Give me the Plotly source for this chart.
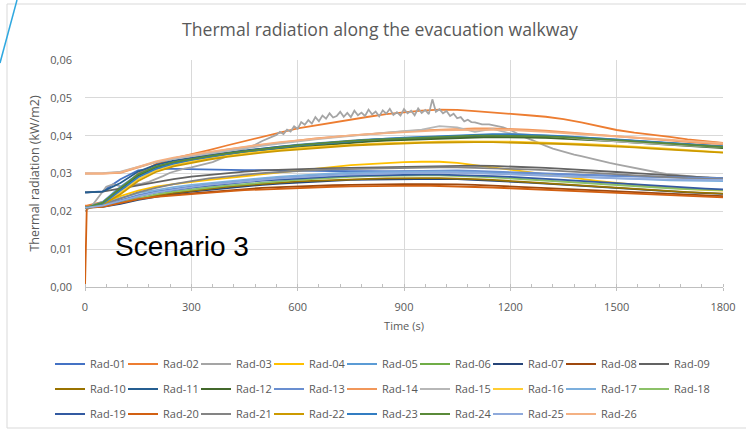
import plotly.graph_objects as go
import numpy as np

# ---------------- data (radiation in W/m2, converted to kW/m2 for plotting) -------------
time_s = [0, 5, 50, 100, 150, 200, 250, 300, 350, 400, 450, 500, 550, 600, 650, 700,
          750, 800, 850, 900, 950, 1000, 1050, 1100, 1150, 1200, 1250, 1300, 1350, 1400,
          1450, 1500, 1550, 1600, 1650, 1700, 1750, 1800]

time_rad03_s = list(range(0, 540, 20)) + list(range(540, 1100, 10)) + list(range(1100, 1801, 20))

rad_01 = [25.0, 25.0, 25.3, 28.5, 30.8, 31.2, 31.2, 31.1, 31.0, 31.0, 30.9, 30.9, 30.8, 30.8, 30.7, 30.7,
          30.6, 30.6, 30.6, 30.5, 30.5, 30.5, 30.4, 30.3, 30.2, 30.1, 30.0, 29.9, 29.8, 29.6,
          29.5, 29.4, 29.3, 29.2, 29.1, 29.0, 28.9, 28.8]
rad_02 = [21.5, 21.5, 22.5, 26.0, 30.0, 32.5, 34.0, 35.0, 36.2, 37.4, 38.6, 39.7, 40.8, 41.9, 42.7, 43.5,
          44.3, 45.0, 45.7, 46.2, 46.6, 46.9, 46.8, 46.5, 46.2, 45.8, 45.4, 45.0, 44.4, 43.5,
          42.5, 41.5, 40.8, 40.3, 39.7, 39.0, 38.5, 38.1]
rad_03 = [20.0, 21.5, 24.0, 26.5, 27.2, 26.6, 26.8, 27.0, 27.3, 27.8, 28.5, 29.3, 30.2, 30.8, 31.3, 31.6,
          32.0, 32.6, 33.0, 33.8, 34.5, 35.5, 36.2, 37.0, 37.6, 38.6, 39.5,
          40.2, 41.0, 40.4, 41.6, 41.1, 42.5, 41.8, 43.6, 42.9, 44.1,
          43.2, 44.9, 43.8, 45.3, 44.5, 45.9, 44.8, 45.2, 46.3, 45.0,
          46.0, 44.9, 46.6, 45.4, 46.1, 45.2, 46.9, 45.6, 46.4, 45.1,
          46.7, 45.8, 47.1, 45.5, 46.2, 45.3, 47.0, 45.9, 46.6, 45.4,
          47.2, 46.0, 46.8, 45.7, 49.6, 46.3, 47.0, 45.9, 46.5, 45.2,
          45.8, 44.6, 44.9, 43.8, 44.2, 43.6,
          43.5, 43.0, 43.0, 42.6, 42.2, 41.5, 40.5, 39.6, 38.9, 38.0, 37.3, 36.6, 36.0, 35.5,
          35.0, 34.6, 34.1, 33.6, 33.2, 32.8, 32.4, 32.0, 31.6, 31.2, 30.8, 30.5, 30.2, 29.9,
          29.7, 29.5, 29.3, 29.1, 29.0, 28.9, 28.8, 28.8]
rad_04 = [21.0, 21.0, 22.0, 24.0, 25.5, 26.5, 27.2, 27.8, 28.3, 28.8, 29.3, 29.8, 30.3, 30.8, 31.3, 31.8,
          32.2, 32.5, 32.8, 33.0, 33.1, 33.1, 32.8, 32.2, 31.5, 30.8, 30.2, 29.6, 29.0, 28.5,
          28.0, 27.5, 27.0, 26.6, 26.2, 25.9, 25.7, 25.5]
rad_05 = [21.0, 21.0, 22.5, 26.5, 29.8, 31.8, 33.0, 33.9, 34.7, 35.4, 36.0, 36.6, 37.1, 37.6, 38.0, 38.4,
          38.7, 39.0, 39.2, 39.4, 39.6, 39.8, 40.0, 40.1, 40.2, 40.2, 40.1, 40.0, 39.8, 39.6,
          39.3, 39.0, 38.7, 38.4, 38.1, 37.8, 37.5, 37.2]
rad_06 = [21.0, 21.0, 22.2, 26.0, 29.5, 31.5, 32.8, 33.7, 34.5, 35.2, 35.8, 36.3, 36.8, 37.3, 37.7, 38.1,
          38.4, 38.7, 38.9, 39.1, 39.3, 39.5, 39.6, 39.7, 39.8, 39.8, 39.7, 39.6, 39.4, 39.2,
          39.0, 38.7, 38.4, 38.1, 37.8, 37.5, 37.2, 36.9]
rad_07 = [21.0, 21.0, 21.2, 22.0, 23.0, 23.9, 24.6, 25.2, 25.7, 26.2, 26.6, 27.0, 27.3, 27.6, 27.9, 28.1,
          28.3, 28.4, 28.5, 28.6, 28.6, 28.6, 28.5, 28.3, 28.1, 27.9, 27.6, 27.3, 27.0, 26.7,
          26.4, 26.1, 25.8, 25.5, 25.2, 25.0, 24.8, 24.6]
rad_08 = [21.0, 21.0, 21.3, 22.4, 23.4, 24.0, 24.4, 24.8, 25.2, 25.6, 25.9, 26.2, 26.4, 26.6, 26.8, 26.9,
          27.0, 27.1, 27.2, 27.2, 27.2, 27.2, 27.1, 27.0, 26.8, 26.6, 26.4, 26.2, 26.0, 25.7,
          25.5, 25.2, 25.0, 24.8, 24.6, 24.4, 24.2, 24.0]
rad_09 = [25.0, 25.0, 25.2, 26.0, 27.0, 27.8, 28.5, 29.2, 29.7, 30.1, 30.5, 30.8, 31.0, 31.2, 31.3, 31.4,
          31.5, 31.6, 31.7, 31.8, 31.9, 32.0, 32.1, 32.1, 32.0, 31.9, 31.7, 31.5, 31.2, 31.0,
          30.7, 30.4, 30.1, 29.8, 29.5, 29.2, 29.0, 28.8]
rad_10 = [21.0, 21.0, 21.3, 22.3, 23.3, 24.2, 24.9, 25.5, 26.0, 26.5, 26.9, 27.3, 27.6, 27.9, 28.1, 28.3,
          28.5, 28.6, 28.7, 28.8, 28.8, 28.8, 28.7, 28.5, 28.3, 28.0, 27.7, 27.4, 27.1, 26.8,
          26.5, 26.2, 25.9, 25.6, 25.3, 25.1, 24.9, 24.7]
rad_11 = [25.0, 25.0, 25.2, 27.5, 30.5, 32.3, 33.4, 34.2, 34.9, 35.5, 36.1, 36.6, 37.1, 37.5, 37.9, 38.3,
          38.6, 38.9, 39.1, 39.3, 39.5, 39.7, 39.8, 39.9, 40.0, 40.0, 39.9, 39.8, 39.6, 39.4,
          39.2, 38.9, 38.6, 38.3, 38.0, 37.7, 37.4, 37.1]
rad_12 = [21.0, 21.0, 22.0, 25.8, 29.3, 31.4, 32.7, 33.6, 34.3, 35.0, 35.6, 36.1, 36.6, 37.0, 37.4, 37.8,
          38.1, 38.4, 38.7, 38.9, 39.1, 39.3, 39.4, 39.5, 39.6, 39.6, 39.5, 39.4, 39.2, 39.0,
          38.8, 38.5, 38.2, 37.9, 37.6, 37.3, 37.0, 36.7]
rad_13 = [21.0, 21.0, 21.6, 23.0, 24.3, 25.3, 26.0, 26.6, 27.2, 27.7, 28.2, 28.6, 29.0, 29.3, 29.6, 29.9,
          30.1, 30.3, 30.5, 30.6, 30.7, 30.8, 30.8, 30.7, 30.6, 30.4, 30.2, 30.0, 29.8, 29.6,
          29.4, 29.3, 29.2, 29.1, 29.0, 28.9, 28.8, 28.8]
rad_14 = [30.0, 30.0, 30.0, 30.2, 31.5, 33.0, 34.0, 34.8, 35.6, 36.3, 37.0, 37.6, 38.2, 38.8, 39.3, 39.7,
          40.1, 40.5, 40.8, 41.1, 41.4, 41.6, 41.8, 41.9, 41.9, 41.8, 41.6, 41.3, 41.0, 40.6,
          40.2, 39.8, 39.4, 39.0, 38.6, 38.3, 38.0, 37.8]
rad_15 = [30.0, 30.0, 30.1, 30.5, 31.8, 33.0, 33.9, 34.6, 35.3, 36.0, 36.7, 37.3, 37.9, 38.5, 39.0, 39.5,
          40.0, 40.4, 40.8, 41.2, 41.6, 42.5, 42.2, 41.0, 41.8, 40.6, 40.3, 40.0, 39.6, 39.2,
          38.8, 38.5, 38.2, 37.9, 37.6, 37.4, 37.2, 37.0]
rad_16 = [21.0, 21.0, 22.0, 25.0, 28.5, 30.8, 32.2, 33.2, 34.0, 34.7, 35.3, 35.8, 36.3, 36.7, 37.0, 37.3,
          37.6, 37.8, 38.0, 38.2, 38.3, 38.4, 38.5, 38.5, 38.5, 38.4, 38.3, 38.2, 38.0, 37.8,
          37.6, 37.4, 37.1, 36.8, 36.5, 36.2, 35.9, 35.6]
rad_17 = [21.0, 21.0, 21.8, 23.5, 24.8, 25.7, 26.4, 27.0, 27.5, 28.0, 28.4, 28.8, 29.2, 29.5, 29.8, 30.0,
          30.2, 30.3, 30.4, 30.5, 30.5, 30.5, 30.4, 30.3, 30.1, 29.9, 29.7, 29.5, 29.2, 29.0,
          28.8, 28.6, 28.4, 28.3, 28.2, 28.1, 28.0, 28.0]
rad_18 = [21.0, 21.0, 21.4, 22.5, 23.6, 24.5, 25.2, 25.8, 26.3, 26.8, 27.2, 27.6, 28.0, 28.3, 28.6, 28.9,
          29.1, 29.3, 29.4, 29.5, 29.5, 29.5, 29.4, 29.2, 29.0, 28.7, 28.4, 28.1, 27.8, 27.5,
          27.2, 26.9, 26.6, 26.3, 26.1, 25.9, 25.7, 25.6]
rad_19 = [21.0, 21.0, 21.5, 22.8, 24.0, 25.0, 25.7, 26.3, 26.8, 27.3, 27.7, 28.1, 28.4, 28.7, 29.0, 29.2,
          29.4, 29.5, 29.6, 29.7, 29.7, 29.7, 29.6, 29.5, 29.3, 29.1, 28.9, 28.6, 28.3, 28.0,
          27.7, 27.4, 27.1, 26.8, 26.5, 26.2, 26.0, 25.8]
rad_20 = [0.0, 21.0, 21.2, 22.2, 23.2, 23.8, 24.2, 24.5, 24.9, 25.3, 25.6, 25.8, 26.0, 26.2, 26.4, 26.5,
          26.6, 26.7, 26.7, 26.7, 26.8, 26.7, 26.6, 26.5, 26.3, 26.1, 25.9, 25.7, 25.4, 25.2,
          25.0, 24.8, 24.6, 24.4, 24.2, 24.0, 23.8, 23.7]
rad_21 = [21.0, 21.0, 21.8, 23.5, 25.0, 26.2, 27.2, 28.0, 28.7, 29.2, 29.7, 30.1, 30.4, 30.7, 30.9, 31.1,
          31.2, 31.3, 31.4, 31.5, 31.6, 31.6, 31.6, 31.5, 31.4, 31.3, 31.1, 30.9, 30.6, 30.3,
          30.0, 29.7, 29.4, 29.1, 28.9, 28.7, 28.6, 28.5]
rad_22 = [21.0, 21.0, 21.8, 24.5, 28.0, 30.4, 31.9, 32.9, 33.7, 34.4, 35.0, 35.5, 36.0, 36.4, 36.8, 37.1,
          37.4, 37.6, 37.8, 38.0, 38.1, 38.2, 38.3, 38.3, 38.3, 38.2, 38.1, 38.0, 37.8, 37.6,
          37.4, 37.2, 36.9, 36.6, 36.3, 36.0, 35.7, 35.5]
rad_23 = [21.0, 21.0, 22.0, 25.5, 29.0, 31.2, 32.6, 33.6, 34.4, 35.1, 35.8, 36.4, 36.9, 37.4, 37.8, 38.2,
          38.6, 38.9, 39.2, 39.5, 39.7, 39.9, 40.1, 40.3, 40.4, 40.4, 40.3, 40.1, 39.9, 39.6,
          39.3, 39.0, 38.7, 38.4, 38.0, 37.7, 37.4, 37.1]
rad_24 = [21.0, 21.0, 22.3, 26.2, 29.8, 31.8, 33.0, 33.9, 34.6, 35.3, 35.9, 36.5, 37.0, 37.5, 37.9, 38.3,
          38.6, 38.9, 39.1, 39.3, 39.5, 39.7, 39.9, 40.0, 40.0, 40.0, 39.9, 39.8, 39.6, 39.4,
          39.1, 38.8, 38.5, 38.2, 37.9, 37.6, 37.3, 37.0]
rad_25 = [21.0, 21.0, 21.5, 22.8, 24.0, 25.0, 25.8, 26.4, 27.0, 27.5, 27.9, 28.3, 28.7, 29.0, 29.3, 29.5,
          29.7, 29.9, 30.0, 30.1, 30.2, 30.2, 30.2, 30.1, 30.0, 29.8, 29.6, 29.4, 29.2, 29.0,
          28.8, 28.7, 28.6, 28.5, 28.4, 28.4, 28.3, 28.3]
rad_26 = [30.0, 30.0, 30.0, 30.3, 31.8, 33.2, 34.2, 35.0, 35.7, 36.4, 37.1, 37.7, 38.3, 38.8, 39.3, 39.7,
          40.1, 40.4, 40.7, 41.0, 41.2, 41.4, 41.5, 41.6, 41.6, 41.5, 41.3, 41.0, 40.7, 40.4,
          40.1, 39.8, 39.5, 39.2, 38.9, 38.6, 38.3, 38.0]

series_names = ["Rad-%02d" % i for i in range(1, 27)]
series_values = [rad_01, rad_02, rad_03, rad_04, rad_05, rad_06, rad_07, rad_08, rad_09, rad_10,
                 rad_11, rad_12, rad_13, rad_14, rad_15, rad_16, rad_17, rad_18, rad_19, rad_20,
                 rad_21, rad_22, rad_23, rad_24, rad_25, rad_26]
series_colors = ["#4472C4", "#ED7D31", "#A5A5A5", "#FFC000", "#5B9BD5", "#70AD47",
                 "#264478", "#9E480E", "#636363", "#997300", "#255E91", "#43682B",
                 "#698ED0", "#F1975A", "#B7B7B7", "#FFCD33", "#7CAFDD", "#8CC168",
                 "#335AA1", "#D26012", "#848484", "#CC9A00", "#327DC2", "#5A8A39",
                 "#8FAADC", "#F4B183"]

y_tick_vals = [0.0, 0.01, 0.02, 0.03, 0.04, 0.05, 0.06]
y_tick_text = ["0,00", "0,01", "0,02", "0,03", "0,04", "0,05", "0,06"]
x_tick_vals = [0, 300, 600, 900, 1200, 1500, 1800]

# ---------------- figure -------------
FONT = "Open Sans"
fig = go.Figure()
legends = ["legend", "legend2", "legend3"]
n = len(series_names)
for i, (name, vals, col) in enumerate(zip(series_names, series_values, series_colors)):
    xs = time_rad03_s if name == "Rad-03" else time_s
    last_in_row = (i % 9 == 8) or (i == n - 1)
    fig.add_trace(go.Scatter(
        x=xs, y=np.array(vals) / 1000.0, name=name, mode="lines",
        line=dict(color=col, width=1.8),
        legend=legends[i // 9],
        legendwidth=45 if last_in_row else None,
    ))

txt = "#595959"
W, H = 746, 430
L, R, T, B = 85, 23, 60, 143
pw, ph = W - L - R, H - T - B

def px_x(p):
    return (p - L) / pw

def px_y(p):
    return (H - B - p) / ph

leg_common = dict(orientation="h", xanchor="left", yanchor="middle",
                  font=dict(family=FONT, size=11, color=txt),
                  bgcolor="rgba(0,0,0,0)", borderwidth=0,
                  itemwidth=30, entrywidth=28, entrywidthmode="pixels",
                  tracegroupgap=0, itemclick=False)

fig.update_layout(
    width=W, height=H,
    margin=dict(l=L, r=R, t=T, b=B, autoexpand=False),
    paper_bgcolor="white", plot_bgcolor="white",
    font=dict(family=FONT, size=11, color=txt),
    title=dict(text="Thermal radiation along the evacuation walkway",
               x=px_x(380), xref="paper", xanchor="center",
               y=1 - 30 / H, yref="container", yanchor="middle",
               font=dict(family=FONT, size=17.6, color=txt)),
    showlegend=True,
    legend=dict(x=px_x(50), y=px_y(364), **leg_common),
    legend2=dict(x=px_x(50), y=px_y(389), **leg_common),
    legend3=dict(x=px_x(50), y=px_y(414), **leg_common),
    xaxis=dict(range=[0, 1800], tickvals=x_tick_vals, showgrid=True,
               gridcolor="#D9D9D9", gridwidth=1, zeroline=False,
               showline=True, linecolor="#BFBFBF", linewidth=1,
               ticks="outside", ticklen=3, tickcolor="#BFBFBF",
               minor=dict(dtick=60, ticks="inside", ticklen=3, tickcolor="#BFBFBF", showgrid=False),
               ticklabelstandoff=7,
               tickfont=dict(family=FONT, size=11, color=txt),
               title=dict(text="Time (s)", standoff=9,
                          font=dict(family=FONT, size=11, color=txt))),
    yaxis=dict(range=[0, 0.06], tickvals=y_tick_vals, ticktext=y_tick_text,
               showgrid=True, gridcolor="#D9D9D9", gridwidth=1, zeroline=False,
               showline=False, ticks="", ticklabelstandoff=12,
               tickfont=dict(family=FONT, size=11, color=txt),
               title=dict(text="Thermal radiation (kW/m2)", standoff=7,
                          font=dict(family=FONT, size=12.5, color=txt))),
    annotations=[dict(text="Scenario 3", x=80, y=0.0108, xref="x", yref="y",
                      xanchor="left", yanchor="middle", showarrow=False,
                      font=dict(family="Liberation Sans", size=28, color="black"))],
    shapes=[
        dict(type="rect", xref="paper", yref="paper",
             x0=px_x(7), x1=px_x(760), y0=px_y(428), y1=px_y(4),
             line=dict(color="#D9D9D9", width=1), fillcolor="rgba(0,0,0,0)", layer="below"),
        dict(type="line", xref="paper", yref="paper",
             x0=px_x(0), y0=px_y(63), x1=px_x(17), y1=px_y(0),
             line=dict(color="#2FA8E0", width=1.5)),
    ],
)

fig.write_html("out.html", config={"displayModeBar": False},
               post_script="document.body.style.margin='0';")
